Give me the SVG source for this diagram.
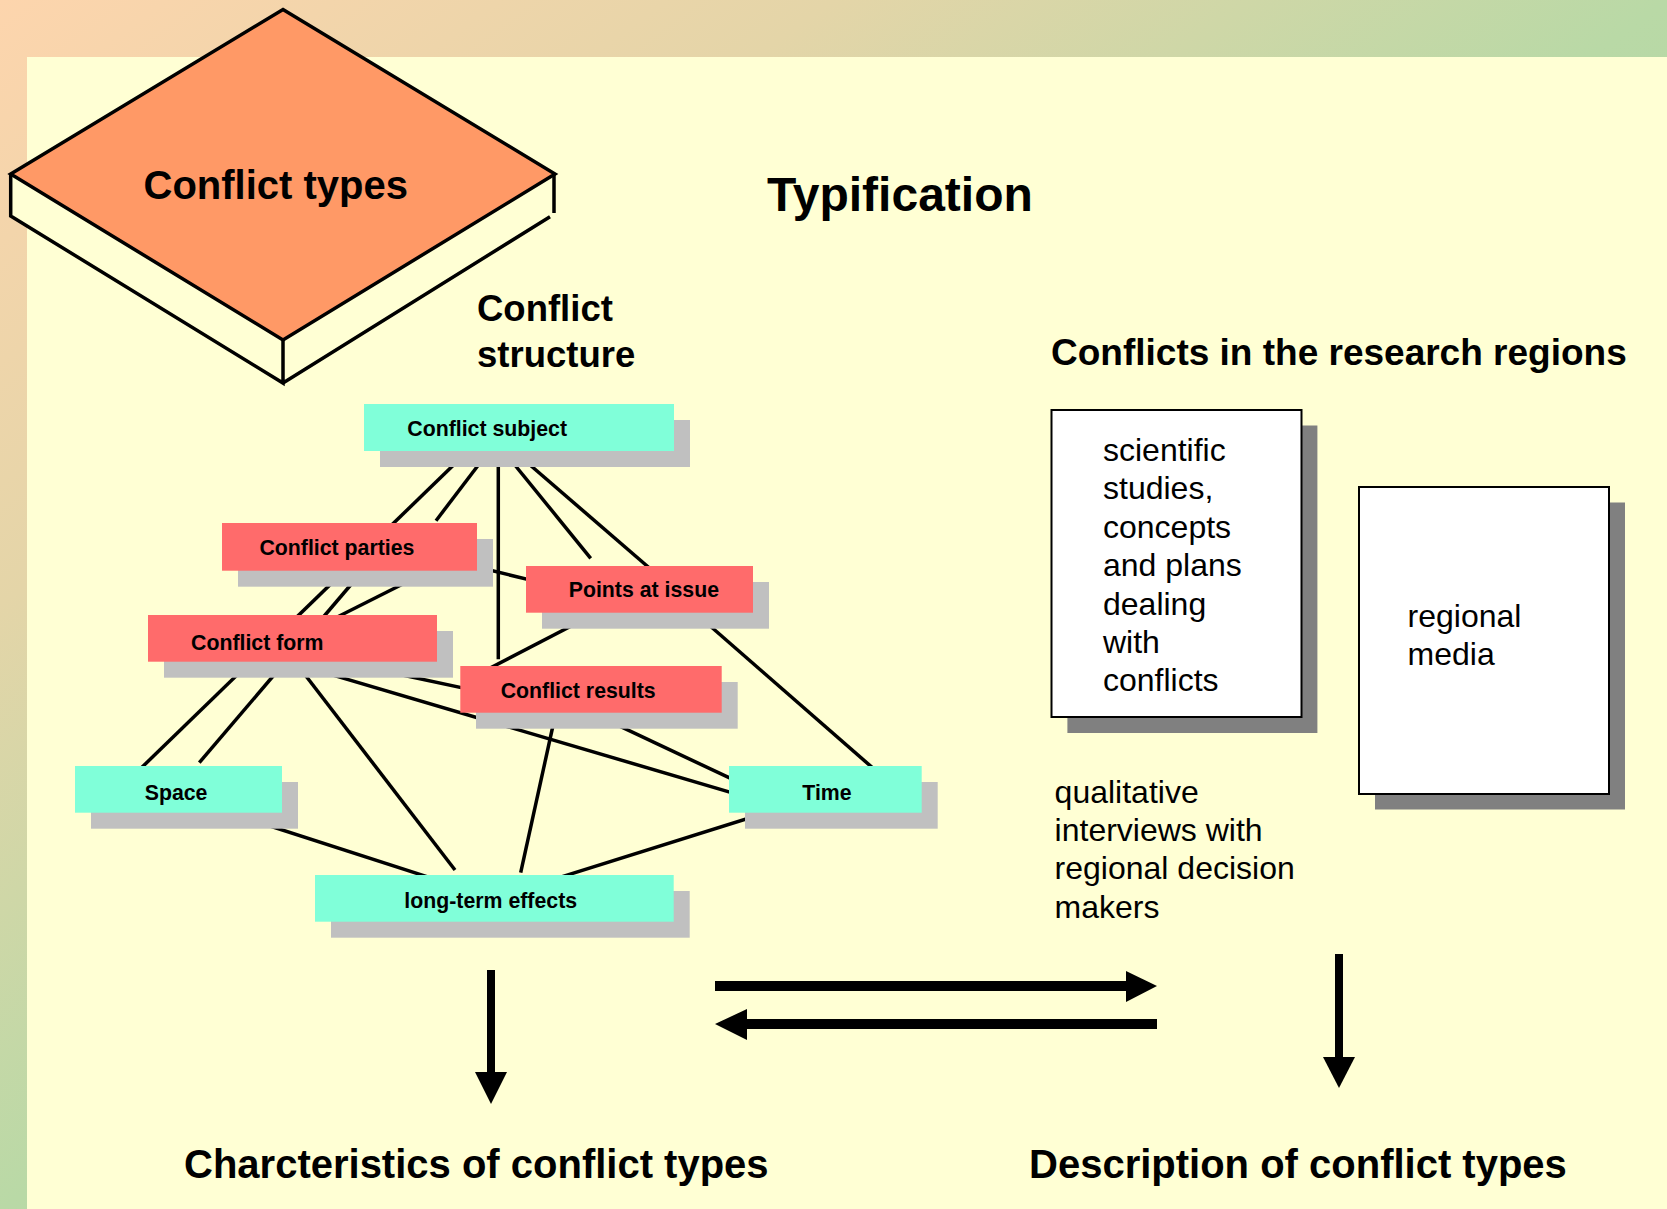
<svg xmlns="http://www.w3.org/2000/svg" width="1667" height="1209" viewBox="0 0 1667 1209">
<defs>
<linearGradient id="bg" x1="0" y1="0" x2="1" y2="1">
<stop offset="0" stop-color="#FDD5AD"/>
<stop offset="0.25" stop-color="#E4D5A8"/>
<stop offset="0.5" stop-color="#B9D9A6"/>
<stop offset="1" stop-color="#9ED3A2"/>
</linearGradient>
<style>
.lbl{font-family:"Liberation Sans",Arial,sans-serif;font-weight:bold;font-size:21.3px;fill:#000}
.title{font-family:"Liberation Sans",Arial,sans-serif;font-weight:bold;fill:#000}
.body{font-family:"Liberation Sans",Arial,sans-serif;font-size:32px;fill:#000}
.cyan{fill:#80FFD9}
.red{fill:#FF6B6B}
.sh{fill:#C0C0C0}
.edge{stroke:#000;stroke-width:3.5;fill:none}
.dsh{fill:#808080}
.doc{fill:#FFFFFF;stroke:#000;stroke-width:2}
.box{stroke:#000;stroke-width:3.5;stroke-linejoin:miter}
</style>
</defs>
<rect x="0" y="0" width="1667" height="1209" fill="url(#bg)"/>
<rect x="27" y="57" width="1640" height="1152" fill="#FFFFD4"/>

<g id="conflict-types">
<polygon points="10.7,174 283,340 283,383 10.7,216" fill="#FFFFD4"/>
<polygon points="555,174 283,340 283,383 552,215" fill="#FFFFD4"/>
<polygon points="283,9.5 555,174 283,340 10.7,174" fill="#FF9966" class="box"/>
<path d="M10.7,174 V216 L283,383 V340 M283,383 L550,216.7 M554,174 V213" class="box" fill="none"/>
<text x="143.5" y="199" class="title" font-size="40">Conflict types</text>
</g>

<text id="typification" x="767" y="211" class="title" font-size="48">Typification</text>
<text id="structure-title" class="title" font-size="36.5"><tspan x="477" y="321">Conflict</tspan><tspan x="477" y="367">structure</tspan></text>
<text id="regions-title" x="1051" y="365" class="title" font-size="37">Conflicts in the research regions</text>

<g id="connectors">
<line class="edge" x1="479.3" y1="440" x2="118.5" y2="790"/>
<line class="edge" x1="486" y1="455" x2="436" y2="520.7"/>
<line class="edge" x1="371.9" y1="560" x2="199.3" y2="762.7"/>
<line class="edge" x1="450.6" y1="560" x2="291.6" y2="640"/>
<line class="edge" x1="498.3" y1="455" x2="498.3" y2="659.3"/>
<line class="edge" x1="506.7" y1="455" x2="590.7" y2="558.3"/>
<line class="edge" x1="518.5" y1="455" x2="657.5" y2="575"/>
<line class="edge" x1="470" y1="565.3" x2="540" y2="582.4"/>
<line class="edge" x1="621.4" y1="600" x2="467" y2="680"/>
<line class="edge" x1="680.4" y1="600" x2="898" y2="790"/>
<line class="edge" x1="286" y1="650" x2="455" y2="870"/>
<line class="edge" x1="300" y1="665.4" x2="745" y2="796.6"/>
<line class="edge" x1="380" y1="670.2" x2="480" y2="691.6"/>
<line class="edge" x1="600" y1="716.9" x2="745" y2="785.2"/>
<line class="edge" x1="558.6" y1="700" x2="520.7" y2="872.7"/>
<line class="edge" x1="800" y1="802" x2="540" y2="883.6"/>
<line class="edge" x1="250" y1="819.5" x2="440" y2="880.9"/>
</g>

<g id="node-subject">
<rect class="sh" x="380" y="420" width="310" height="47"/>
<rect class="cyan" x="364" y="404" width="310" height="47"/>
<text class="lbl" x="407.3" y="435.7">Conflict subject</text>
</g>
<g id="node-parties">
<rect class="sh" x="238" y="539" width="255" height="47.7"/>
<rect class="red" x="222" y="523" width="255" height="47.7"/>
<text class="lbl" x="259.4" y="554.7">Conflict parties</text>
</g>
<g id="node-points">
<rect class="sh" x="542" y="582" width="227" height="46.7"/>
<rect class="red" x="526" y="566" width="227" height="46.7"/>
<text class="lbl" x="568.7" y="596.7">Points at issue</text>
</g>
<g id="node-form">
<rect class="sh" x="164" y="631" width="289" height="46.7"/>
<rect class="red" x="148" y="615" width="289" height="46.7"/>
<text class="lbl" x="191" y="650">Conflict form</text>
</g>
<g id="node-results">
<rect class="sh" x="476" y="682" width="261.7" height="46.7"/>
<rect class="red" x="460.3" y="666" width="261.4" height="46.7"/>
<text class="lbl" x="500.7" y="697.7">Conflict results</text>
</g>
<g id="node-space">
<rect class="sh" x="91" y="782" width="207" height="46.7"/>
<rect class="cyan" x="75" y="766" width="207" height="46.7"/>
<text class="lbl" x="144.7" y="800">Space</text>
</g>
<g id="node-time">
<rect class="sh" x="745" y="782" width="192.7" height="46.7"/>
<rect class="cyan" x="729" y="766" width="192.7" height="46.7"/>
<text class="lbl" x="802.3" y="800">Time</text>
</g>
<g id="node-longterm">
<rect class="sh" x="331" y="891" width="358.7" height="46.7"/>
<rect class="cyan" x="315" y="875" width="358.7" height="46.7"/>
<text class="lbl" x="404.3" y="908">long-term effects</text>
</g>

<g id="doc-studies">
<rect class="dsh" x="1067.4" y="425.5" width="250" height="307.5"/>
<rect class="doc" x="1051.5" y="410" width="250" height="307"/>
<text class="body"><tspan x="1103" y="461">scientific</tspan><tspan x="1103" y="499.4">studies,</tspan><tspan x="1103" y="537.8">concepts</tspan><tspan x="1103" y="576.2">and plans</tspan><tspan x="1103" y="614.6">dealing</tspan><tspan x="1103" y="653">with</tspan><tspan x="1103" y="691.4">conflicts</tspan></text>
</g>
<g id="doc-media">
<rect class="dsh" x="1375" y="502.5" width="250" height="307"/>
<rect class="doc" x="1359" y="487" width="250" height="307"/>
<text class="body"><tspan x="1407.6" y="627">regional</tspan><tspan x="1407.6" y="665.4">media</tspan></text>
</g>
<g id="interviews">
<text class="body"><tspan x="1054.6" y="802.5">qualitative</tspan><tspan x="1054.6" y="840.9">interviews with</tspan><tspan x="1054.6" y="879.3">regional decision</tspan><tspan x="1054.6" y="917.7">makers</tspan></text>
</g>

<g id="arrows">
<rect x="487" y="970" width="8" height="104"/>
<polygon points="475,1072 507,1072 491,1104"/>
<rect x="1335" y="954" width="8" height="105"/>
<polygon points="1323,1057 1355,1057 1339,1088"/>
<rect x="715" y="981" width="413" height="10"/>
<polygon points="1126,971 1157,986 1126,1002"/>
<rect x="745" y="1019" width="412" height="10"/>
<polygon points="747,1009 715,1024 747,1040"/>
</g>

<text id="characteristics" x="184" y="1178" class="title" font-size="40">Charcteristics of conflict types</text>
<text id="description" x="1029" y="1178" class="title" font-size="40">Description of conflict types</text>
</svg>
